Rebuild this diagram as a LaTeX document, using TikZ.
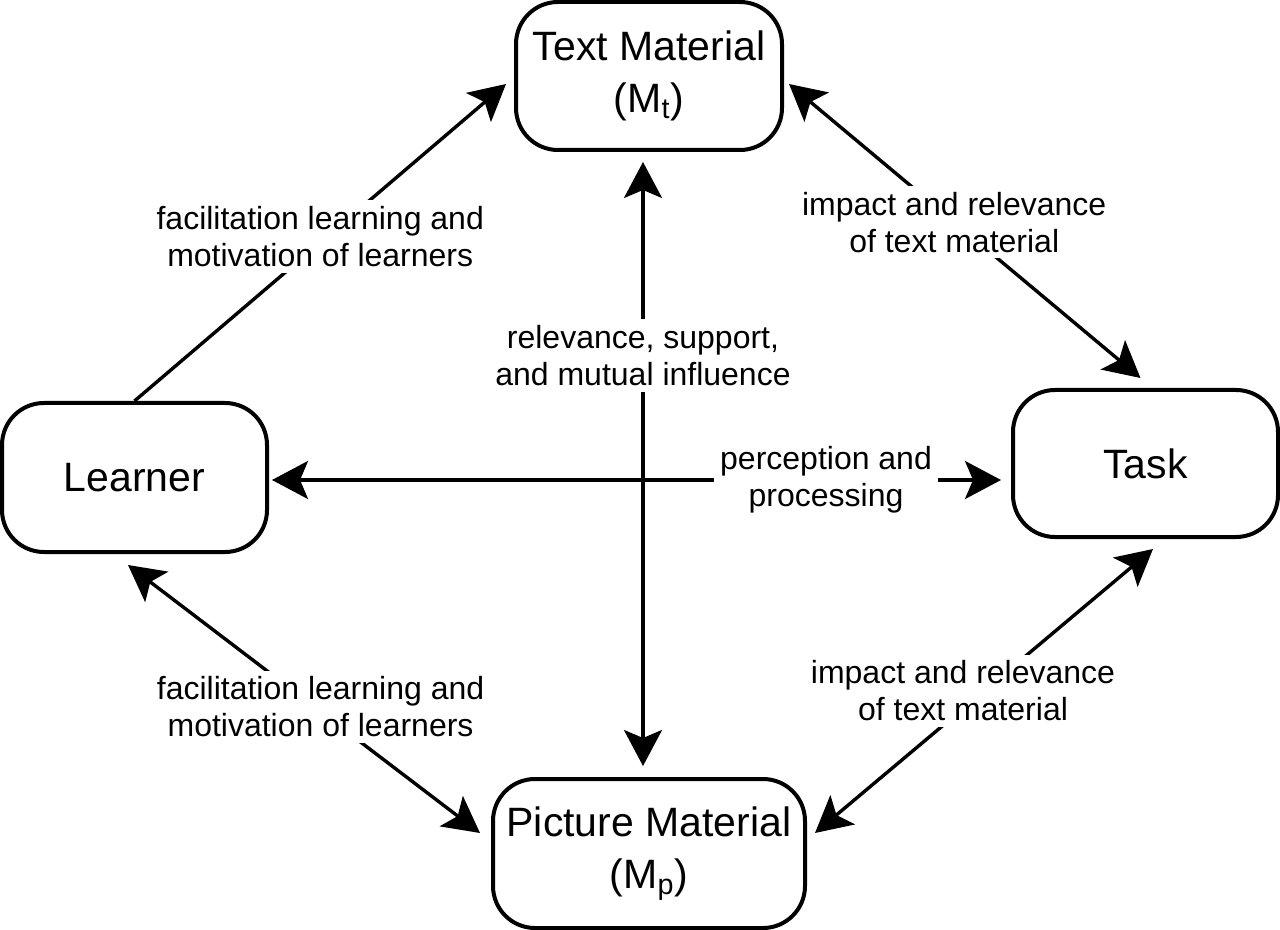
\documentclass[tikz,border=0pt]{standalone}
\usepackage{fontspec}
\setmainfont{Liberation Sans}
\usetikzlibrary{arrows.meta, calc}

\begin{document}
\begin{tikzpicture}[
    x=0.5pt, y=-0.5pt,
    >={Stealth[length=18pt, width=19pt, inset=4pt]},
    block/.style={draw, line width=2pt, rounded corners=21pt, align=center,
                  inner sep=0pt, font=\fontsize{20.5}{26}\selectfont},
    lbl/.style={fill=white, align=center, inner sep=3pt,
                font=\fontsize{16}{18.5}\selectfont},
    link/.style={line width=1.7pt}
  ]
  \useasboundingbox (0,0) rectangle (1280,930);

  % the four boxes
  \node[block, minimum width=133pt, minimum height=74pt] (tm) at (649,76)
    {Text Material\\(M\textsubscript{t})};
  \node[block, minimum width=132.5pt, minimum height=74.5pt] (learner) at (134.5,477.5)
    {Learner};
  \node[block, minimum width=132.5pt, minimum height=73.5pt] (task) at (1145.5,463.5)
    {Task};
  \node[block, minimum width=156pt, minimum height=74.5pt] (pm) at (649,853.5)
    {Picture Material\\(M\textsubscript{p})};

  % connectors
  \draw[link, ->] (learner.north) -- ($(tm.west)+(-8,8)$)
    node[lbl, pos=0.5, yshift=3pt] (lbl1) {facilitation learning and\\motivation of learners};
  \draw[link, <->] ($(tm.east)+(5,8)$) -- ($(task.north)+(-5,-10)$)
    node[lbl, pos=0.47] (lbl2) {impact and relevance\\of text material};
  \draw[link, <->] ($(learner.east)+(3,2.5)$) -- ($(task.west)+(-10,16.5)$)
    node[lbl, pos=0.76] (lbl3) {perception and\\processing};
  \draw[link, <->] ($(tm.south)+(-6,10)$) -- ($(pm.north)+(-6,-11)$)
    node[lbl, pos=0.32] (lbl4) {relevance, support,\\and mutual influence};
  \draw[link, <->] ($(learner.south)+(-6.5,11)$) -- ($(pm.west)+(-11,-20.5)$)
    node[lbl, pos=0.53, xshift=3pt] (lbl5) {facilitation learning and\\motivation of learners};
  \draw[link, <->] ($(task.south)+(7.5,10)$) -- ($(pm.east)+(8,-20.5)$)
    node[lbl, pos=0.5, xshift=-10.5pt] (lbl6) {impact and relevance\\of text material};
\end{tikzpicture}
\end{document}
